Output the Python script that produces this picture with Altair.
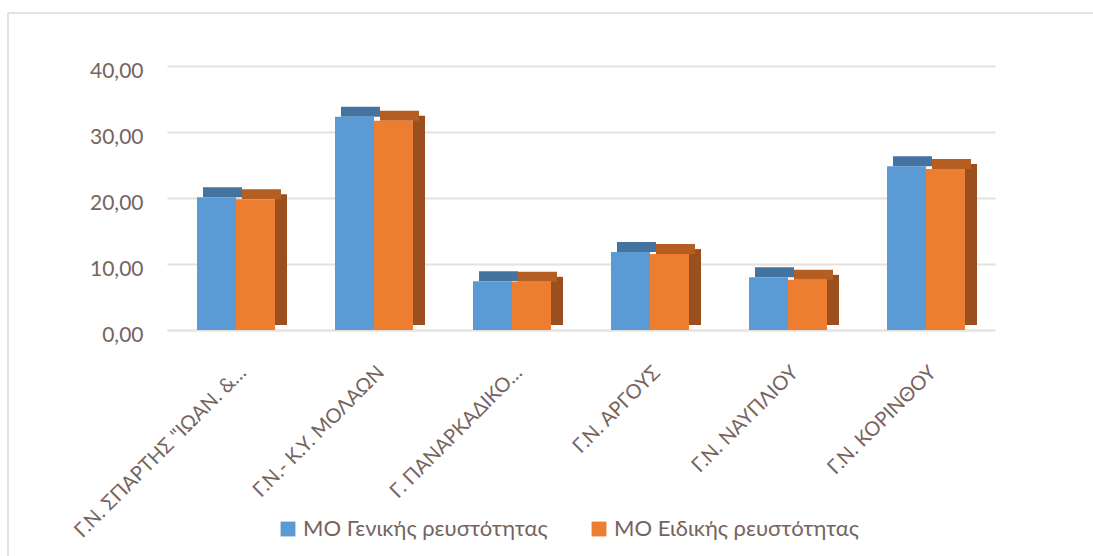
import altair as alt
import pandas as pd

categories = [
    "Γ.Ν. ΣΠΑΡΤΗΣ \"ΙΩΑΝ. &…",
    "Γ.Ν.- Κ.Υ. ΜΟΛΑΩΝ",
    "Γ. ΠΑΝΑΡΚΑΔΙΚΟ…",
    "Γ.Ν. ΑΡΓΟΥΣ",
    "Γ.Ν. ΝΑΥΠΛΙΟΥ",
    "Γ.Ν. ΚΟΡΙΝΘΟΥ",
]
series_names = ["ΜΟ Γενικής ρευστότητας", "ΜΟ Ειδικής ρευστότητας"]
general = [20.1, 32.3, 7.4, 11.8, 8.0, 24.8]
special = [19.8, 31.7, 7.3, 11.5, 7.6, 24.4]

colors = ["#5B9BD5", "#ED7D31"]
top_colors = ["#44739F", "#B55E22"]
side_color = "#9C4F1E"
text_color = "#75645E"
grid_color = "#E6E1DF"
font = "Lato"

rows = []
for c, g, s in zip(categories, general, special):
    rows.append({"cat": c, "series": series_names[0], "value": g})
    rows.append({"cat": c, "series": series_names[1], "value": s})
df = pd.DataFrame(rows)

W, H = 828, 264
BAR = 39
DX, DY = 12, 10

x_enc = alt.X(
    "cat:N",
    sort=categories,
    title=None,
    scale=alt.Scale(paddingInner=0.43, paddingOuter=0.215),
    axis=alt.Axis(
        labelAngle=-45,
        labelFontSize=20,
        labelColor=text_color,
        labelFont=font,
        ticks=False,
        domain=True,
        domainColor=grid_color,
        domainWidth=2,
        labelPadding=32,
        labelLimit=400,
    ),
)
y_enc = alt.Y(
    "value:Q",
    title=None,
    scale=alt.Scale(domain=[0, 40]),
    axis=alt.Axis(
        values=[0, 10, 20, 30, 40],
        labelExpr="replace(format(datum.value, '.2f'), '.', ',')",
        labelFontSize=21,
        labelColor=text_color,
        labelFont=font,
        labelOffset=5,
        ticks=False,
        domain=False,
        gridColor=grid_color,
        gridWidth=2,
        labelPadding=24,
    ),
)

base = alt.Chart(df)
blue = base.transform_filter(alt.datum.series == series_names[0])
orange = base.transform_filter(alt.datum.series == series_names[1])

blue_top = blue.mark_bar(
    width=BAR, xOffset=-BAR / 2 + DX / 2, yOffset=-DY, y2Offset=0,
    color=top_colors[0],
).encode(x=x_enc, y=y_enc, y2="value:Q")

orange_side = orange.mark_bar(
    width=DX, xOffset=BAR + DX / 2, yOffset=-DY / 2, y2Offset=-DY / 2,
    color=side_color,
).encode(x=x_enc, y=y_enc, y2=alt.datum(0))

orange_top = orange.mark_bar(
    width=BAR, xOffset=BAR / 2 + DX / 2, yOffset=-DY, y2Offset=0,
    color=top_colors[1],
).encode(x=x_enc, y=y_enc, y2="value:Q")

color_enc = alt.Color(
    "series:N",
    sort=series_names,
    scale=alt.Scale(domain=series_names, range=colors),
    legend=alt.Legend(
        title=None,
        orient="none",
        legendX=110,
        legendY=452,
        direction="horizontal",
        symbolType="square",
        symbolSize=220,
        symbolStrokeWidth=0,
        labelFontSize=22,
        labelColor=text_color,
        labelFont=font,
        columnPadding=40,
        labelLimit=400,
    ),
)

blue_front = blue.mark_bar(width=BAR, xOffset=-BAR / 2).encode(
    x=x_enc, y=y_enc, y2=alt.datum(0), color=color_enc
)
orange_front = orange.mark_bar(width=BAR, xOffset=BAR / 2).encode(
    x=x_enc, y=y_enc, y2=alt.datum(0), color=color_enc
)

frame_top = alt.Chart(pd.DataFrame({"k": [0]})).mark_rule(
    color=grid_color, strokeWidth=2
).encode(x=alt.value(-159), x2=alt.value(W + 98), y=alt.value(-53))
frame_left = alt.Chart(pd.DataFrame({"k": [0]})).mark_rule(
    color=grid_color, strokeWidth=2
).encode(x=alt.value(-159), y=alt.value(-53), y2=alt.value(H + 226))

chart = (
    alt.layer(frame_top, frame_left, blue_top, orange_side, orange_top,
              blue_front, orange_front)
    .properties(
        width=W,
        height=H,
        autosize=alt.AutoSizeParams(type="none"),
        padding={"left": 167, "top": 66, "right": 98, "bottom": 226},
        background="white",
    )
    .configure_view(stroke=None)
)

chart.save("out.html", embed_options={"renderer": "svg", "actions": False})
